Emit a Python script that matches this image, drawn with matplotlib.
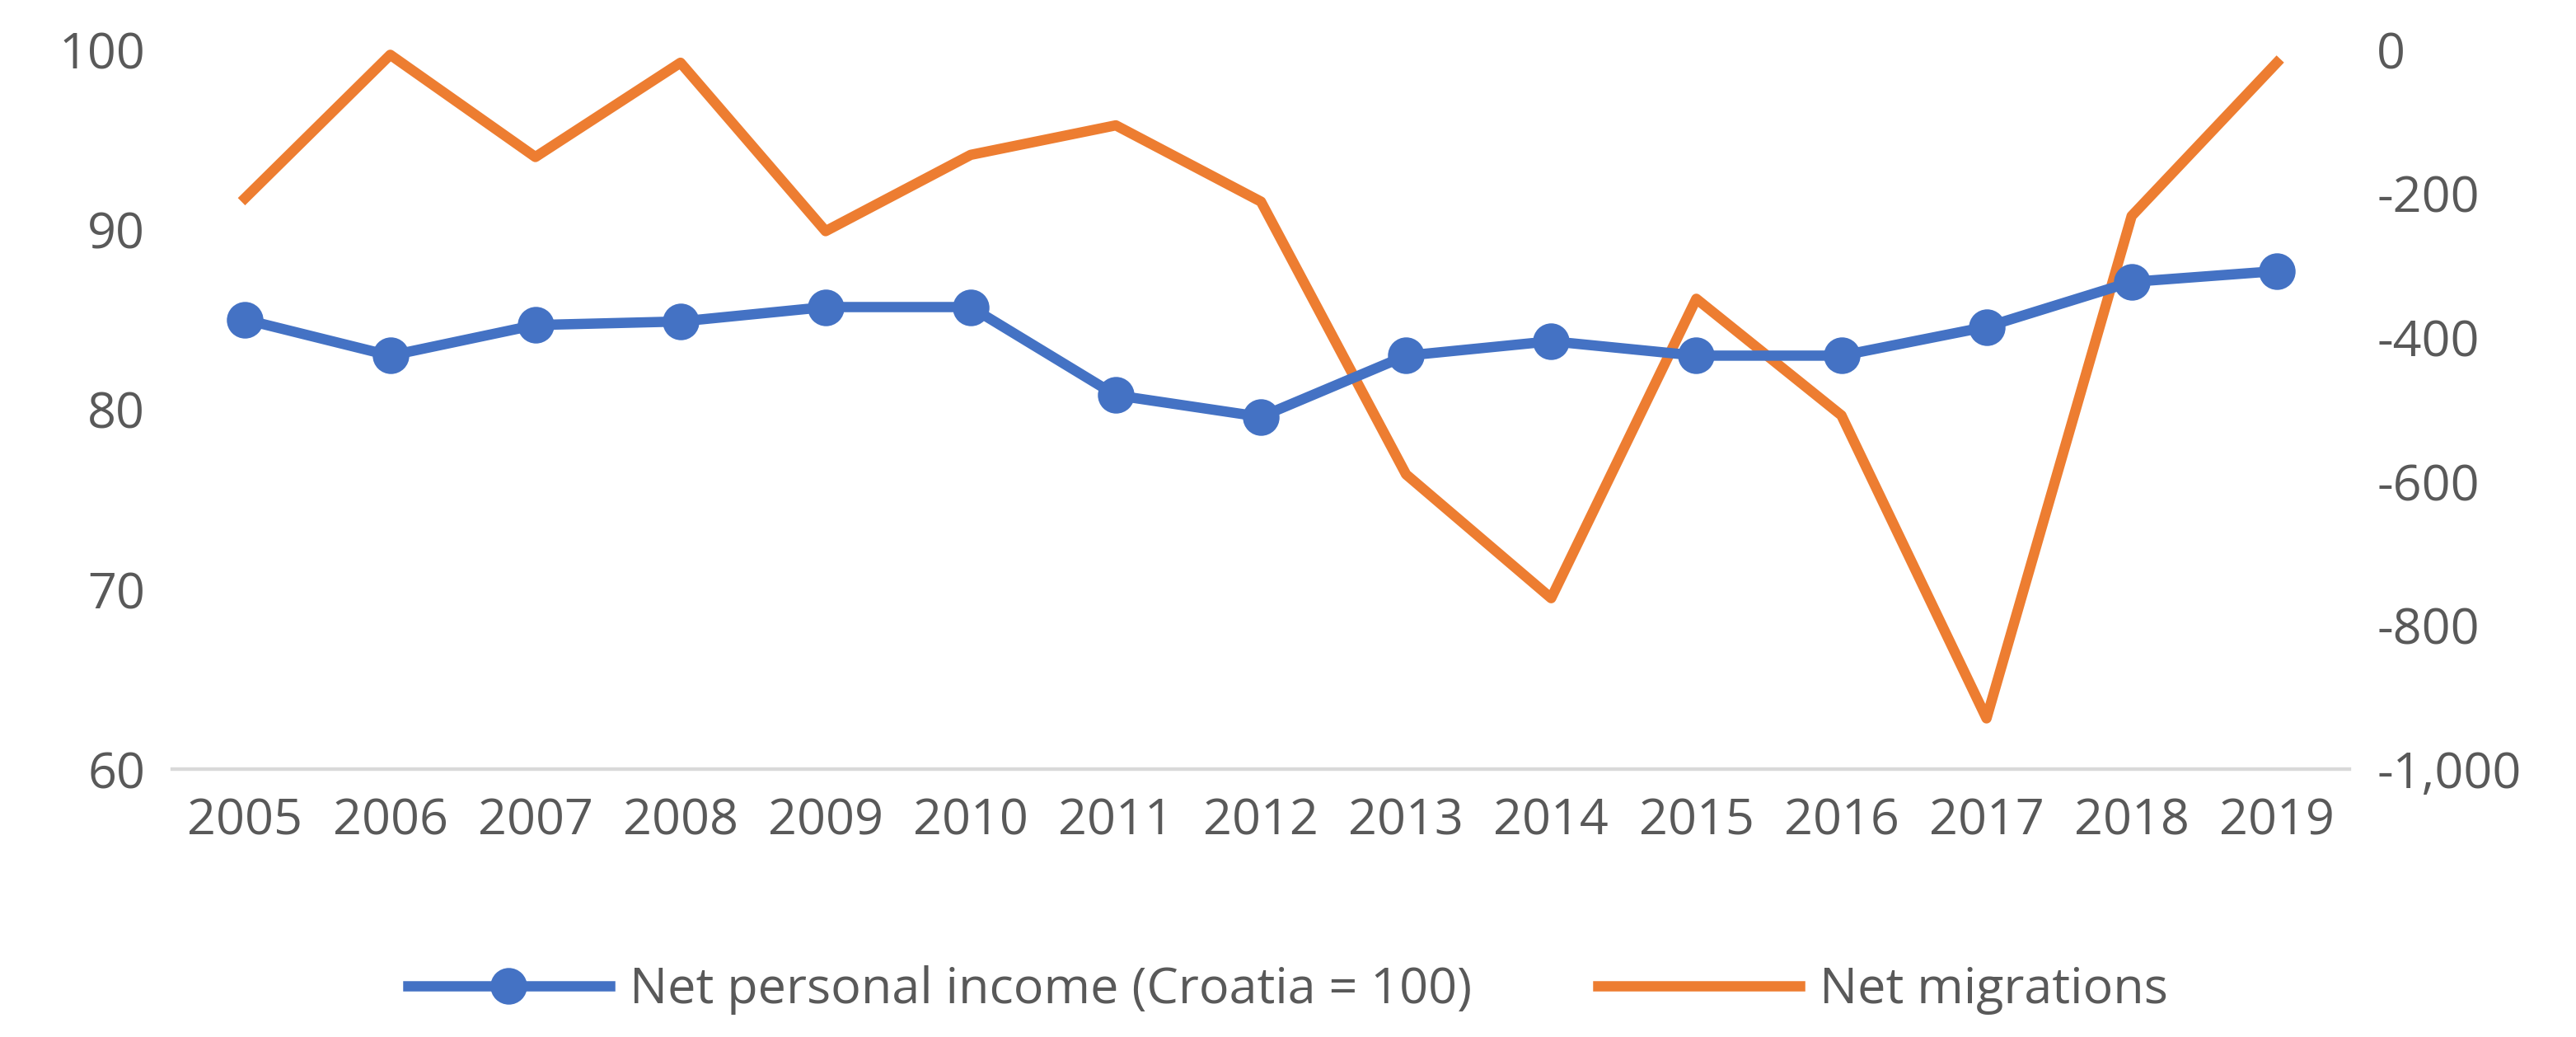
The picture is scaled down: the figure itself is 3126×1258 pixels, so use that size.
import matplotlib
matplotlib.use('Agg')
import matplotlib.pyplot as plt
from matplotlib.ticker import FuncFormatter

years = [str(y) for y in range(2005, 2020)]
net_income = [85.0, 83.0, 84.7, 84.9, 85.7, 85.7, 80.8, 79.6, 83.0, 83.8, 83.0, 83.0, 84.6, 87.1, 87.7]
net_migr = [-206, -7, -149, -18, -252, -146, -105, -211, -590, -762, -346, -508, -929, -231, -18]

blue = '#4472C4'
orange = '#ED7D31'
grey = '#595959'
plt.rcParams['font.family'] = ['Open Sans', 'DejaVu Sans']

fig = plt.figure(figsize=(15.63, 6.29), dpi=200)
ax = fig.add_axes([0.067, 0.258, 0.845, 0.694])
ax2 = ax.twinx()

x = range(len(years))
l1, = ax.plot(x, net_income, color=blue, lw=4.5, marker='o', ms=15,
              label='Net personal income (Croatia = 100)')
l2, = ax2.plot(x, net_migr, color=orange, lw=4.5, label='Net migrations')

ax.set_ylim(60, 100)
ax.set_yticks(range(60, 101, 10))
ax2.set_ylim(-1000, 0)
ax2.set_yticks(range(-1000, 1, 200))
ax2.yaxis.set_major_formatter(FuncFormatter(lambda v, p: f'{int(v):,}'))
ax.set_xlim(-0.5, len(years) - 0.5)
ax.set_xticks(list(x))
ax.set_xticklabels(years)

for a in (ax, ax2):
    for s in ('top', 'left', 'right'):
        a.spines[s].set_visible(False)
    a.spines['bottom'].set_color('#D9D9D9')
    a.spines['bottom'].set_linewidth(1.5)
    a.tick_params(length=0, labelsize=22, labelcolor=grey, pad=12)
ax.set_zorder(ax2.get_zorder() + 1)
ax.patch.set_visible(False)

fig.legend(handles=[l1, l2], loc='center', bbox_to_anchor=(0.5, 0.045), ncol=2,
           frameon=False, fontsize=22, labelcolor=grey, handlelength=4,
           handletextpad=0.4, columnspacing=2.5)

fig.savefig('out.png', dpi=200)
